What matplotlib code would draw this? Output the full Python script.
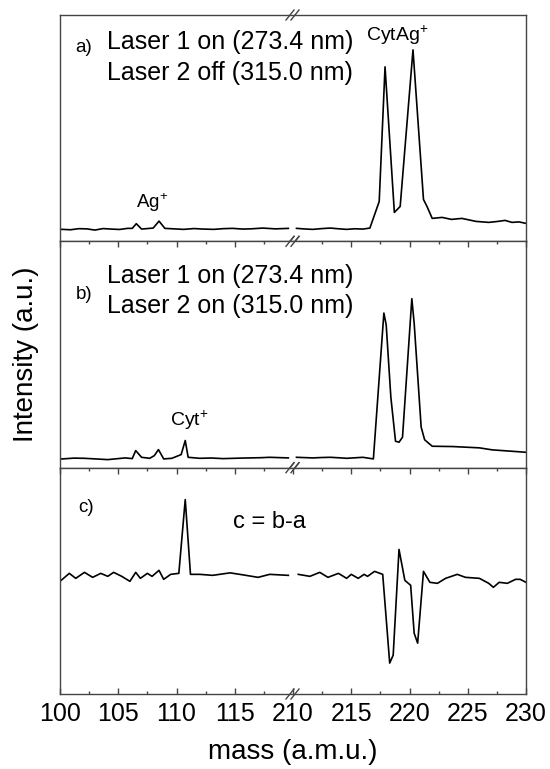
import numpy as np
import matplotlib
matplotlib.use('Agg')
import matplotlib.pyplot as plt
from matplotlib.ticker import FixedLocator, FixedFormatter

plt.rcParams['font.family'] = ['Liberation Sans', 'DejaVu Sans']
plt.rcParams['mathtext.fontset'] = 'custom'
plt.rcParams['mathtext.rm'] = 'Liberation Sans'
plt.rcParams['mathtext.it'] = 'Liberation Sans:italic'

# ---- data (mass in a.m.u., intensity in a.u.) ----
# a) laser 1 on, laser 2 off
mass_a_low = [100.0, 100.2, 100.9, 101.6, 102.3, 103.0, 103.7, 104.4, 105.1, 105.8, 106.2, 106.55,
              107.0, 108.0, 108.5, 109.0, 110.6, 111.5, 112.3, 113.2, 114.0, 114.8, 115.7, 116.5,
              117.4, 118.5, 119.6]
int_a_low = [13, 13, 12.6, 13.7, 13.5, 12.3, 13.8, 13.3, 12.9, 14, 14, 18.7,
             13.3, 14.3, 21.3, 14, 13, 13.8, 13.3, 13.0, 13.7, 14.0, 13.3, 13.6,
             14.3, 13.5, 14]
mass_a_high = [210.3, 211.0, 211.7, 212.5, 213.2, 214.0, 214.6, 215.3, 216.0, 216.6, 217.4, 217.9,
               218.7, 219.2, 220.3, 221.2, 221.5, 221.95, 222.8, 223.6, 224.5, 225.7, 226.8, 227.6,
               228.2, 228.8, 229.4, 230.0]
int_a_high = [14, 13.4, 13, 13.8, 14.3, 13.5, 13, 13.6, 13.3, 14.3, 41, 176,
              30, 36, 193, 43, 36, 24, 25, 23, 24, 21, 20, 21,
              22, 20, 20.5, 19]

# b) laser 1 on, laser 2 on
mass_b_low = [100.0, 100.2, 101.2, 102.1, 103.2, 104.1, 105.6, 106.2, 106.5, 107.0, 107.7, 108.1,
              108.45, 108.9, 109.6, 110.4, 110.75, 111.0, 112.0, 113.0, 114.0, 115.2, 116.3, 117.2,
              118.0, 119.6]
int_b_low = [8.7, 8.7, 9.5, 9.3, 8.6, 8, 9.7, 9, 17, 10.3, 9.3, 12,
             18, 8.7, 9.3, 13, 27, 10.3, 9.3, 9.6, 9, 9.4, 9.7, 9.9,
             10.3, 9.7]
mass_b_high = [210.3, 211.0, 211.7, 212.5, 213.2, 214.0, 214.6, 215.3, 216.0, 216.9, 217.8, 218.0,
               218.4, 218.8, 219.1, 219.4, 220.2, 220.4, 221.0, 221.3, 221.95, 223.7, 226.0, 227.1,
               228.8, 230.0]
int_b_high = [10.3, 10, 9.7, 10.1, 10.3, 9.8, 9.3, 9.8, 10.3, 8.7, 153.7, 142,
              70, 26.3, 25.3, 30.3, 168, 143.7, 40.3, 27.7, 21.3, 21, 19.7, 17.7,
              16.3, 15.3]

# c) difference b - a
mass_c_low = [100.0, 100.1, 100.8, 101.35, 102.1, 102.8, 103.5, 104.1, 104.6, 105.3, 106.0, 106.5,
              106.9, 107.5, 107.9, 108.5, 108.9, 109.5, 110.2, 110.75, 111.2, 112.0, 113.1, 114.6,
              115.7, 117.0, 118.0, 119.6]
int_c_low = [112, 113, 120, 115, 121, 116, 120, 117, 121, 117, 112, 121,
             115, 120, 117, 123, 114, 119, 120, 194, 119, 119, 118, 120.5,
             118.5, 116, 119, 118]
mass_c_high = [210.45, 211.45, 212.3, 213.0, 213.9, 214.6, 215.0, 215.6, 216.1, 216.4, 217.0, 217.7,
               218.3, 218.6, 219.1, 219.6, 220.1, 220.4, 220.7, 221.2, 221.75, 222.4, 223.1, 224.1,
               224.8, 226.0, 226.8, 227.2, 227.7, 228.4, 229.1, 229.5, 230.0]
int_c_high = [119, 117, 121, 116, 120, 115, 119, 115, 119, 117, 122, 119,
              30, 38, 144, 113, 108, 60, 50, 122, 111, 110, 115, 119,
              116, 115, 110, 106, 111, 110, 114, 114, 111]

tick_labels = ['100', '105', '110', '115', '210', '215', '220', '225', '230']
GAP = 90  # 120 -> 210 are drawn at the same place


def to_axis(m):
    m = np.asarray(m, dtype=float)
    return np.where(m > 150, m - GAP, m)


fig = plt.figure(figsize=(5.5, 7.69), dpi=100)
gs = fig.add_gridspec(3, 1, left=60/550, right=526/550, top=1-15/769, bottom=1-694/769, hspace=0)
axes = [fig.add_subplot(gs[i]) for i in range(3)]

panels = [
    (mass_a_low, int_a_low, mass_a_high, int_a_high, (1, 228)),
    (mass_b_low, int_b_low, mass_b_high, int_b_high, (0, 225)),
    (mass_c_low, int_c_low, mass_c_high, int_c_high, (-1, 226)),
]

for i, (ax, (ml, il, mh, ih, yl)) in enumerate(zip(axes, panels)):
    ax.plot(to_axis(ml), il, color='black', lw=1.2)
    ax.plot(to_axis(mh), ih, color='black', lw=1.2)
    ax.set_xlim(100, 140)
    ax.set_ylim(*yl)
    ax.set_yticks([])
    for s in ax.spines.values():
        s.set_color('#444444')
        s.set_linewidth(1.0)
    ax.xaxis.set_major_locator(FixedLocator([100, 105, 110, 115, 125, 130, 135, 140]))
    ax.xaxis.set_minor_locator(FixedLocator([102.5, 107.5, 112.5, 117.5, 122.5, 127.5, 132.5, 137.5]))
    ax.tick_params(axis='x', which='both', direction='in', color='#444444',
                   top=(i > 0), bottom=(i == 2), labelbottom=(i == 2))
    ax.tick_params(axis='x', which='major', length=4.5, width=1)
    ax.tick_params(axis='x', which='minor', length=2.5, width=1)

    # axis break marks "//"
    for yb in (0, 1):
        for dx in (-3.0, 2.0):
            x0 = (120 - 100) / 40 + dx / 466
            ax.plot([x0 - 4/466, x0 + 4/466], [yb - 5/227, yb + 5/227],
                    transform=ax.transAxes, color='#444444', lw=1, clip_on=False)

ax_c = axes[2]
ax_c.xaxis.set_major_locator(FixedLocator([100, 105, 110, 115, 120, 125, 130, 135, 140]))
ax_c.xaxis.set_major_formatter(FixedFormatter(tick_labels))
ax_c.tick_params(axis='x', labelsize=18, pad=6)
for t in ax_c.xaxis.get_major_ticks():
    if abs(t.get_loc() - 120) < 0.1:
        t.tick1line.set_visible(False)
        t.tick2line.set_visible(False)
for ax in axes[1:2]:
    pass
ax_c.set_xlabel('mass (a.m.u.)', fontsize=20, labelpad=9)

fig.text(0.047, 1 - 354/769, 'Intensity (a.u.)', rotation=90, fontsize=20,
         ha='center', va='center')

# panel a
ax = axes[0]
ax.text(0.0504, 0.855, 'a)', transform=ax.transAxes, fontsize=13.5, ha='center', va='center')
ax.text(0.101, 0.881, 'Laser 1 on (273.4 nm)', transform=ax.transAxes, fontsize=18, va='center')
ax.text(0.101, 0.744, 'Laser 2 off (315.0 nm)', transform=ax.transAxes, fontsize=18, va='center')
ax.text(107.94, 40, r'Ag$^{+}$', fontsize=13.5, ha='center', va='center')
ax.text(128.93, 208, r'CytAg$^{+}$', fontsize=14, ha='center', va='center')

# panel b
ax = axes[1]
ax.text(0.0526, 0.764, 'b)', transform=ax.transAxes, fontsize=13.5, ha='center', va='center')
ax.text(0.101, 0.849, 'Laser 1 on (273.4 nm)', transform=ax.transAxes, fontsize=18, va='center')
ax.text(0.101, 0.716, 'Laser 2 on (315.0 nm)', transform=ax.transAxes, fontsize=18, va='center')
ax.text(111.12, 47, r'Cyt$^{+}$', fontsize=14, ha='center', va='center')

# panel c
ax = axes[2]
ax.text(0.0569, 0.824, 'c)', transform=ax.transAxes, fontsize=13.5, ha='center', va='center')
ax.text(0.4496, 0.758, 'c = b-a', transform=ax.transAxes, fontsize=17, ha='center', va='center')

fig.savefig('out.png', dpi=100)
